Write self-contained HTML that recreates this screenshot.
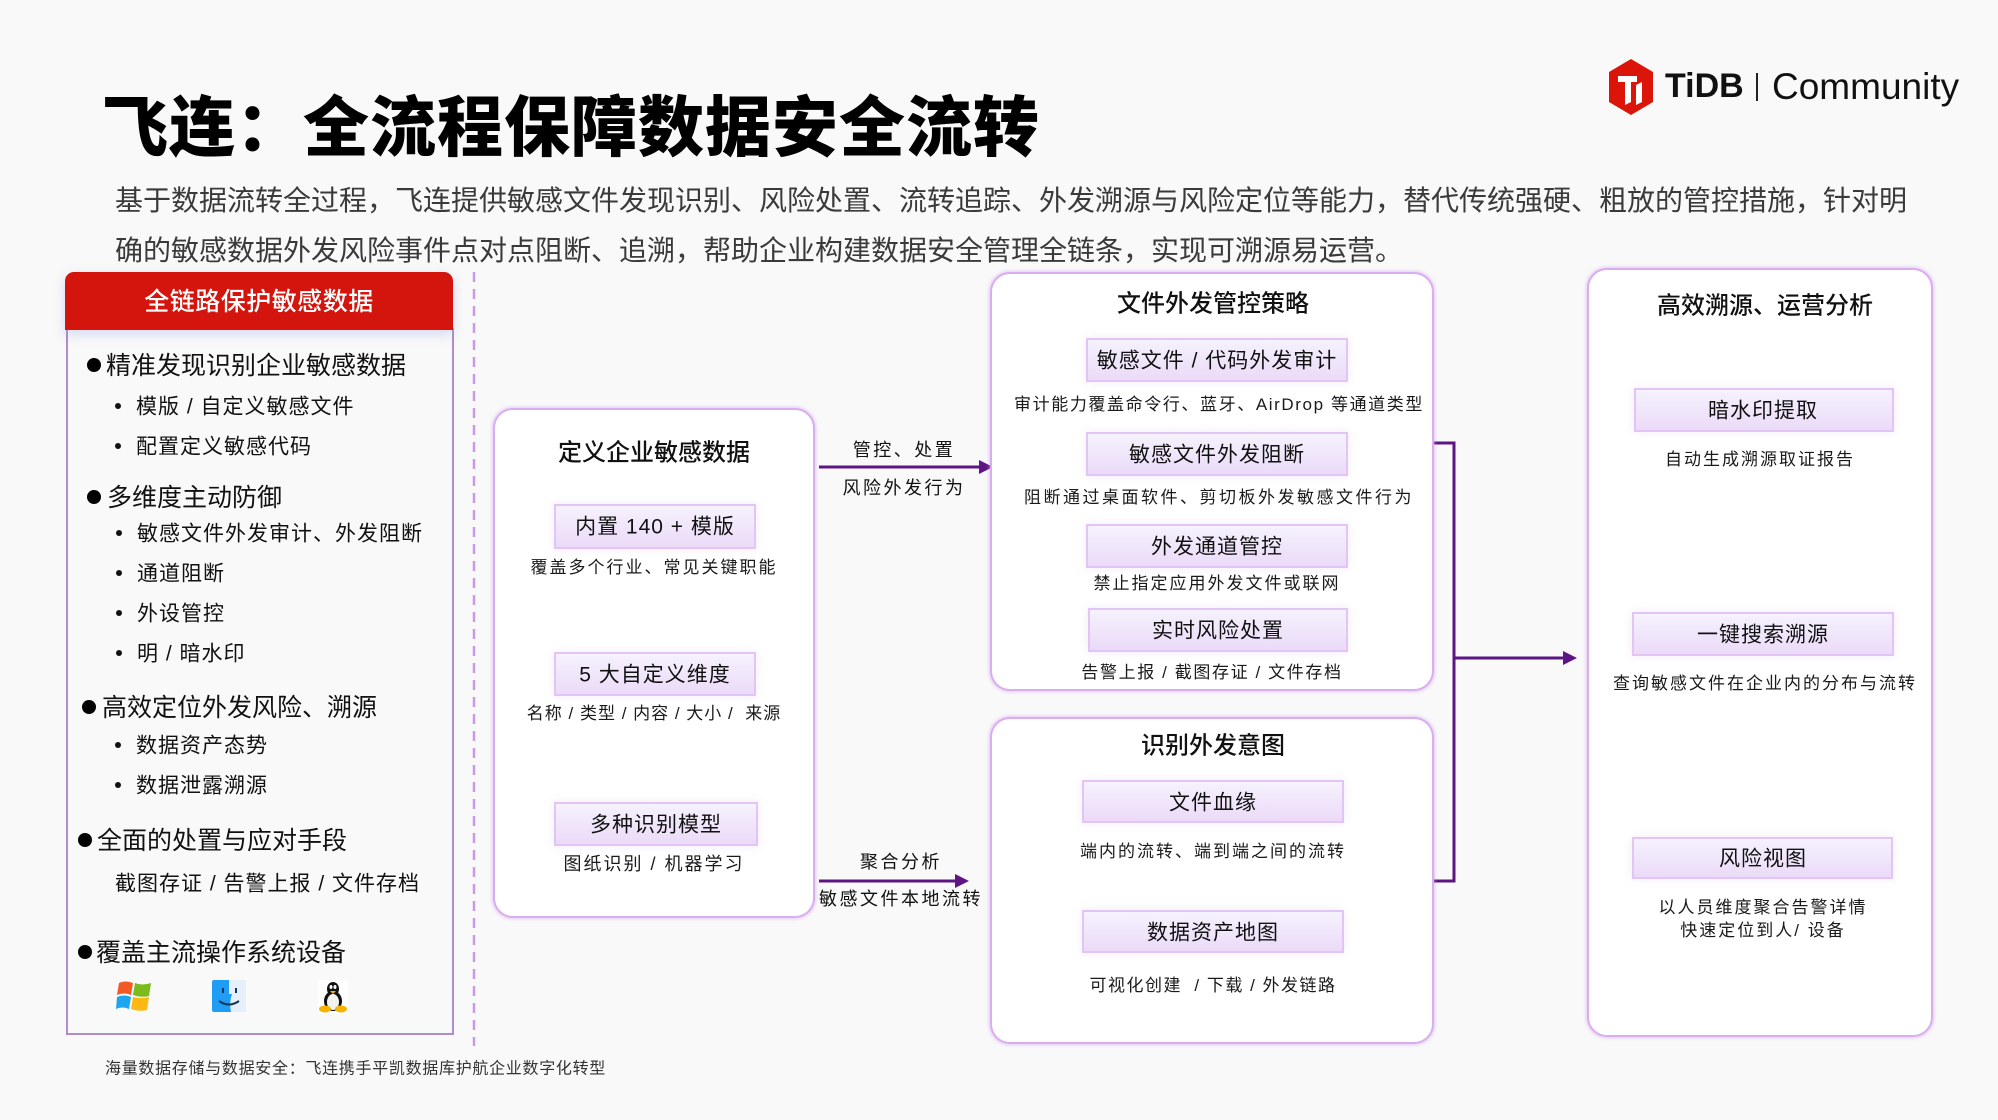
<!DOCTYPE html>
<html><head><meta charset="utf-8">
<style>
*{margin:0;padding:0;box-sizing:border-box}
html,body{width:1998px;height:1120px;overflow:hidden;background:#f9f9f9}
body{position:relative;font-family:"Liberation Sans","Noto Sans CJK SC",sans-serif;color:#111}
.c{position:absolute;transform:translate(-50%,calc(-50% + 1px));white-space:nowrap;line-height:1.2}
.l{position:absolute;transform:translateY(calc(-50% + 1px));white-space:nowrap;line-height:1.2}
.box{position:absolute;background:#fff;border:2px solid #d9aef0;border-radius:20px;box-shadow:0 0 3px 1px rgba(210,160,240,.55)}
.sb{position:absolute;background:linear-gradient(#f6f2fd,#ebdaf8);border:2px solid #e3c5f5;box-shadow:0 0 8px rgba(200,170,230,.25)}
.pt{font-size:24px;font-weight:500;color:#111}
.st{font-size:21px;letter-spacing:1px;color:#111}
.ds{font-size:17px;letter-spacing:2px;color:#1a1a1a}
.h{font-size:25px;color:#111}
.s{font-size:21px;letter-spacing:1px;color:#111}
.bb{position:absolute;width:14px;height:14px;border-radius:50%;background:#000}
.sd{position:absolute;width:6px;height:6px;border-radius:50%;background:#111}
.al{font-size:18px;letter-spacing:2.5px;color:#111}
</style></head><body>

<!-- Title -->
<div class="l" style="left:102px;top:127px;font-size:66px;font-weight:900;letter-spacing:1px;color:#000">飞连：全流程保障数据安全流转</div>
<div class="l" style="left:115px;top:200px;font-size:28px;color:#3a3a3a">基于数据流转全过程，飞连提供敏感文件发现识别、风险处置、流转追踪、外发溯源与风险定位等能力，替代传统强硬、粗放的管控措施，针对明</div>
<div class="l" style="left:115px;top:250px;font-size:28px;color:#3a3a3a">确的敏感数据外发风险事件点对点阻断、追溯，帮助企业构建数据安全管理全链条，实现可溯源易运营。</div>

<!-- Logo -->
<svg style="position:absolute;left:1607px;top:58px" width="48" height="58" viewBox="0 0 48 58">
<polygon points="24,1 46,14 46,44 24,57 2,44 2,14" fill="#dc150b"/>
<polygon points="11,18 30,18 30,24 24,24 24,44 18,47 18,24 11,24" fill="#fff"/>
<polygon points="29,27 35,24 35,44 29,47" fill="#fff"/>
</svg>
<div style="position:absolute;left:1665px;top:69px;font-size:34px;line-height:34px;font-weight:bold;color:#111;font-family:'Liberation Sans',sans-serif">TiDB</div>
<div style="position:absolute;left:1756px;top:73px;width:2px;height:28px;background:#222"></div>
<div style="position:absolute;left:1772px;top:68px;font-size:37px;line-height:37px;color:#111;font-family:'Liberation Sans',sans-serif">Community</div>

<!-- Left panel -->
<div style="position:absolute;left:66px;top:328px;width:388px;height:707px;border:2px solid #b08ccc;border-top:none;background:#f9f9f9"></div>
<div style="position:absolute;left:65px;top:272px;width:388px;height:58px;background:#d4150e;border-radius:9px 9px 0 0;box-shadow:0 4px 12px rgba(120,140,220,.3)"></div>
<div class="c" style="left:259px;top:301px;font-size:25px;letter-spacing:0.5px;color:#fff;font-weight:500">全链路保护敏感数据</div>

<div class="bb" style="left:87px;top:358px"></div>
<div class="l h" style="left:106px;top:365px">精准发现识别企业敏感数据</div>
<div class="sd" style="left:115px;top:403px"></div>
<div class="l s" style="left:136px;top:406px">模版 / 自定义敏感文件</div>
<div class="sd" style="left:115px;top:443px"></div>
<div class="l s" style="left:136px;top:446px">配置定义敏感代码</div>

<div class="bb" style="left:87px;top:490px"></div>
<div class="l h" style="left:107px;top:497px">多维度主动防御</div>
<div class="sd" style="left:116px;top:530px"></div>
<div class="l s" style="left:137px;top:533px">敏感文件外发审计、外发阻断</div>
<div class="sd" style="left:116px;top:570px"></div>
<div class="l s" style="left:137px;top:573px">通道阻断</div>
<div class="sd" style="left:116px;top:610px"></div>
<div class="l s" style="left:137px;top:613px">外设管控</div>
<div class="sd" style="left:116px;top:650px"></div>
<div class="l s" style="left:137px;top:653px">明 / 暗水印</div>

<div class="bb" style="left:82px;top:700px"></div>
<div class="l h" style="left:102px;top:707px">高效定位外发风险、溯源</div>
<div class="sd" style="left:115px;top:742px"></div>
<div class="l s" style="left:136px;top:745px">数据资产态势</div>
<div class="sd" style="left:115px;top:782px"></div>
<div class="l s" style="left:136px;top:785px">数据泄露溯源</div>

<div class="bb" style="left:78px;top:833px"></div>
<div class="l h" style="left:97px;top:840px">全面的处置与应对手段</div>
<div class="l s" style="left:115px;top:883px">截图存证 / 告警上报 / 文件存档</div>

<div class="bb" style="left:78px;top:945px"></div>
<div class="l h" style="left:96px;top:952px">覆盖主流操作系统设备</div>

<!-- OS icons -->
<svg style="position:absolute;left:116px;top:980px" width="36" height="32" viewBox="0 0 36 32">
<path d="M3,3 Q9,0 17,3 L15,15 Q8,12 1,15 Z" fill="#f25a25"/>
<path d="M19,3 Q26,6 35,3 L33,16 Q25,18 17,15 Z" fill="#7cbb1c"/>
<path d="M1,17 Q8,14 15,17 L13,29 Q6,26 0,29 Z" fill="#1ea5ef"/>
<path d="M17,17 Q25,19 33,17 L31,30 Q23,32 15,29 Z" fill="#fdb913"/>
</svg>
<svg style="position:absolute;left:212px;top:980px" width="34" height="32" viewBox="0 0 34 32">
<rect x="0" y="0" width="34" height="32" rx="2" fill="#1e9cf6"/>
<path d="M17,0 L34,0 L34,32 L19,32 Q17,22 20,14 L17,14 Z" fill="#e6f0fa"/>
<rect x="10" y="8" width="2" height="5" fill="#12395a"/>
<rect x="23" y="8" width="2" height="5" fill="#12395a"/>
<path d="M7,21 Q17,28 27,21" stroke="#12395a" stroke-width="2" fill="none"/>
</svg>
<svg style="position:absolute;left:318px;top:980px" width="30" height="33" viewBox="0 0 30 33">
<rect width="30" height="33" fill="#fff"/>
<ellipse cx="15" cy="9" rx="6" ry="7" fill="#111"/>
<ellipse cx="15" cy="21" rx="9" ry="10" fill="#111"/>
<ellipse cx="15" cy="22" rx="6" ry="8" fill="#f2f2f2"/>
<ellipse cx="13" cy="7" rx="1.5" ry="2" fill="#fff"/>
<ellipse cx="17" cy="7" rx="1.5" ry="2" fill="#fff"/>
<path d="M12,11 L18,11 L15,14 Z" fill="#f5b400"/>
<ellipse cx="7" cy="29" rx="6" ry="3.5" fill="#f5b400"/>
<ellipse cx="23" cy="29" rx="6" ry="3.5" fill="#f5b400"/>
</svg>

<!-- dashed separator & connectors -->
<svg style="position:absolute;left:0;top:0" width="1998" height="1120">
<line x1="474" y1="272" x2="474" y2="1046" stroke="#c99be6" stroke-width="2.5" stroke-dasharray="10 7"/>
<g stroke="#5c1582" stroke-width="3" fill="none">
<line x1="819" y1="467" x2="981" y2="467"/>
<line x1="819" y1="881" x2="957" y2="881"/>
<polyline points="1434,443 1454,443 1454,881 1434,881"/>
<line x1="1454" y1="658" x2="1565" y2="658"/>
</g>
<g fill="#5c1582">
<polygon points="979,460 993,467 979,474"/>
<polygon points="955,874 969,881 955,888"/>
<polygon points="1563,651 1577,658 1563,665"/>
</g>
</svg>
<div class="c al" style="left:904px;top:450px">管控、处置</div>
<div class="c al" style="left:904px;top:488px">风险外发行为</div>
<div class="c al" style="left:901px;top:862px">聚合分析</div>
<div class="c al" style="left:901px;top:899px">敏感文件本地流转</div>

<!-- Middle panel -->
<div class="box" style="left:493px;top:408px;width:322px;height:510px"></div>
<div class="c pt" style="left:654px;top:453px">定义企业敏感数据</div>
<div class="sb" style="left:554px;top:504px;width:202px;height:45px"></div>
<div class="c st" style="left:655px;top:526px">内置 140 + 模版</div>
<div class="c ds" style="left:654px;top:567px">覆盖多个行业、常见关键职能</div>
<div class="sb" style="left:554px;top:652px;width:202px;height:44px"></div>
<div class="c st" style="left:655px;top:674px">5 大自定义维度</div>
<div class="c ds" style="left:654px;top:713px;letter-spacing:1px">名称 / 类型 / 内容 / 大小 /&nbsp; 来源</div>
<div class="sb" style="left:554px;top:802px;width:204px;height:44px"></div>
<div class="c st" style="left:656px;top:824px">多种识别模型</div>
<div class="c ds" style="left:654px;top:864px;font-size:18px">图纸识别 / 机器学习</div>

<!-- 文件外发管控策略 -->
<div class="box" style="left:990px;top:272px;width:444px;height:419px"></div>
<div class="c pt" style="left:1213px;top:304px">文件外发管控策略</div>
<div class="sb" style="left:1086px;top:338px;width:262px;height:44px"></div>
<div class="c st" style="left:1217px;top:360px">敏感文件 / 代码外发审计</div>
<div class="c ds" style="left:1219px;top:404px;letter-spacing:1.6px">审计能力覆盖命令行、蓝牙、AirDrop 等通道类型</div>
<div class="sb" style="left:1086px;top:432px;width:262px;height:44px"></div>
<div class="c st" style="left:1217px;top:454px">敏感文件外发阻断</div>
<div class="c ds" style="left:1219px;top:497px;letter-spacing:2.5px">阻断通过桌面软件、剪切板外发敏感文件行为</div>
<div class="sb" style="left:1086px;top:524px;width:262px;height:44px"></div>
<div class="c st" style="left:1217px;top:546px">外发通道管控</div>
<div class="c ds" style="left:1217px;top:583px">禁止指定应用外发文件或联网</div>
<div class="sb" style="left:1088px;top:608px;width:260px;height:44px"></div>
<div class="c st" style="left:1218px;top:630px">实时风险处置</div>
<div class="c ds" style="left:1212px;top:672px;letter-spacing:1.6px">告警上报 / 截图存证 / 文件存档</div>

<!-- 识别外发意图 -->
<div class="box" style="left:990px;top:717px;width:444px;height:327px"></div>
<div class="c pt" style="left:1213px;top:746px">识别外发意图</div>
<div class="sb" style="left:1082px;top:780px;width:262px;height:43px"></div>
<div class="c st" style="left:1213px;top:802px">文件血缘</div>
<div class="c ds" style="left:1213px;top:851px">端内的流转、端到端之间的流转</div>
<div class="sb" style="left:1082px;top:910px;width:262px;height:43px"></div>
<div class="c st" style="left:1213px;top:932px">数据资产地图</div>
<div class="c ds" style="left:1213px;top:985px;letter-spacing:1.5px">可视化创建&nbsp; / 下载 / 外发链路</div>

<!-- Right panel -->
<div class="box" style="left:1587px;top:268px;width:346px;height:769px"></div>
<div class="c pt" style="left:1765px;top:306px">高效溯源、运营分析</div>
<div class="sb" style="left:1634px;top:388px;width:260px;height:44px"></div>
<div class="c st" style="left:1763px;top:410px">暗水印提取</div>
<div class="c ds" style="left:1760px;top:459px">自动生成溯源取证报告</div>
<div class="sb" style="left:1632px;top:612px;width:262px;height:44px"></div>
<div class="c st" style="left:1763px;top:634px">一键搜索溯源</div>
<div class="c ds" style="left:1765px;top:683px">查询敏感文件在企业内的分布与流转</div>
<div class="sb" style="left:1632px;top:837px;width:261px;height:42px"></div>
<div class="c st" style="left:1763px;top:858px">风险视图</div>
<div class="c ds" style="left:1763px;top:907px">以人员维度聚合告警详情</div>
<div class="c ds" style="left:1763px;top:930px">快速定位到人/ 设备</div>

<!-- Footer -->
<div class="l" style="left:105px;top:1068px;font-size:16px;letter-spacing:0.7px;color:#333">海量数据存储与数据安全：飞连携手平凯数据库护航企业数字化转型</div>

</body></html>
